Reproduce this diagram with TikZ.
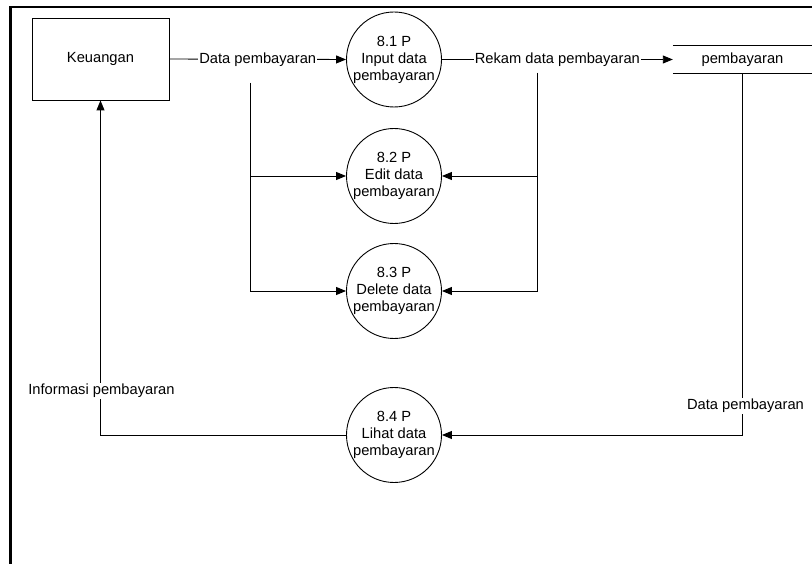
\documentclass[tikz,border=0pt]{standalone}
\usepackage{fontspec}
\setmainfont{Liberation Sans}
\usetikzlibrary{arrows.meta}
\begin{document}
\begin{tikzpicture}[x=1pt,y=-1pt,
  every node/.style={font=\fontsize{14.7}{17}\selectfont},
  entity/.style={draw, line width=0.9pt, rectangle, minimum width=137pt, minimum height=82pt, inner sep=0pt},
  proc/.style={draw, line width=0.9pt, circle, minimum size=95pt, inner sep=0pt, align=center},
  storebox/.style={rectangle, minimum width=139pt, minimum height=27.8pt, inner sep=0pt},
  flow/.style={line width=0.9pt, -{Triangle[length=10pt,width=8pt]}},
  link/.style={line width=0.9pt},
  lbl/.style={fill=white, inner sep=1pt}]
\useasboundingbox (0,0) rectangle (812,564);

% page frame (top and left edges)
\draw[line width=2.4pt] (812,7) -- (10.5,7) -- (10.5,564);

% external entity, processes and data store
\node[entity] (keu) at (100.5,59) {Keuangan};
\node[proc] (p1) at (394,59.5) {8.1 P\\Input data\\pembayaran};
\node[proc] (p2) at (394,176) {8.2 P\\Edit data\\pembayaran};
\node[proc] (p3) at (394,291) {8.3 P\\Delete data\\pembayaran};
\node[proc] (p4) at (394,435) {8.4 P\\Lihat data\\pembayaran};
\node[storebox] (store) at (742.5,59.5) {pembayaran};
\draw[link] (store.north west) -- (store.north east);
\draw[link] (store.south west) -- (store.south east);

% branch points
\coordinate (L1) at (250.5,83);
\coordinate (R1) at (537,73);

% data flows
\draw[flow] (keu.east) -- node[lbl] {Data pembayaran} (p1.west);
\draw[flow] (p1.east) -- node[lbl] {Rekam data pembayaran} (store.west);
\draw[flow] (L1) |- (p2.west);
\draw[flow] (L1) |- (p3.west);
\draw[flow] (R1) |- (p2.east);
\draw[flow] (R1) |- (p3.east);
\draw[flow] (store.south) |- node[lbl, pos=0.46, xshift=3pt] {Data pembayaran} (p4.east);
\draw[flow] (p4.west) -| node[lbl, pos=0.566, xshift=1pt] {Informasi pembayaran} (keu.south);
\end{tikzpicture}
\end{document}
